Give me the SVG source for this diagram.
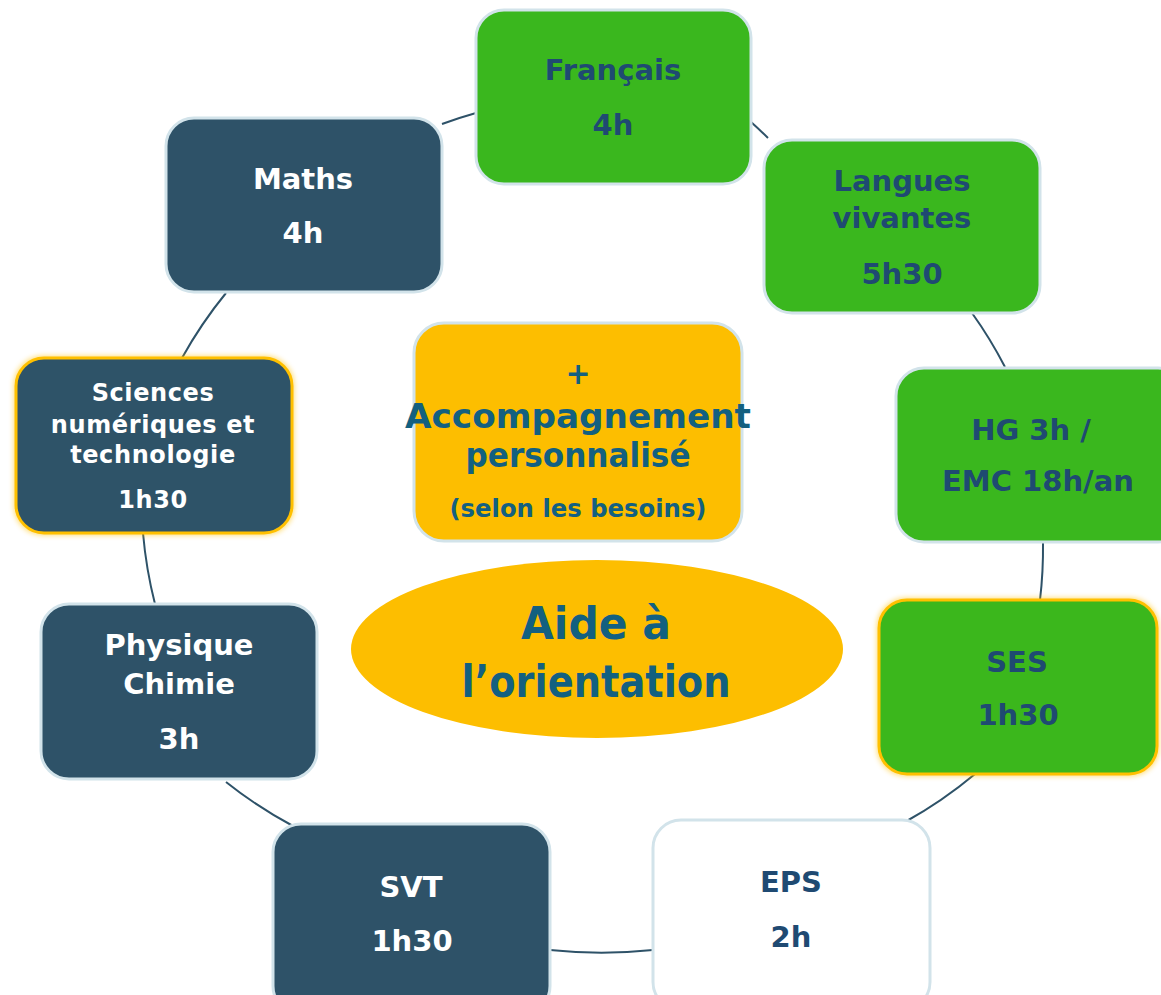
<svg xmlns="http://www.w3.org/2000/svg" width="1161" height="995" viewBox="0 0 1161 995">
<style>
.box{stroke:#D2E3EA;stroke-width:3}
.navy{fill:#2E5268}
.green{fill:#3AB71E}
.white{fill:#FFFFFF}
.yel{fill:#FDBE00}
.glow{stroke:#FFC000;stroke-width:3}
.t{font-family:"DejaVu Sans","Liberation Sans",sans-serif;font-weight:bold;text-anchor:middle}
.tw{fill:#FFFFFF;font-size:29px}
.tg{fill:#1F4A72;font-size:29px}
.tc{fill:#136080}
.ts{fill:#FFFFFF;font-size:24px;letter-spacing:0.6px}
.conn{fill:none;stroke:#2E5268;stroke-width:2}
</style>
<defs>
<filter id="yglow" x="-10%" y="-10%" width="120%" height="120%">
<feMorphology in="SourceAlpha" operator="dilate" radius="1" result="d"/>
<feGaussianBlur in="d" stdDeviation="2.5" result="b"/>
<feFlood flood-color="#FFC000" flood-opacity="0.5"/>
<feComposite in2="b" operator="in" result="g"/>
<feMerge><feMergeNode in="g"/><feMergeNode in="SourceGraphic"/></feMerge>
</filter>
</defs>
<rect width="1161" height="995" fill="#FFFFFF"/>
<g id="connectors">
<path class="conn" d="M442,124 A440,440 0 0 1 476,113"/>
<path class="conn" d="M751,122 A440,440 0 0 1 768,138"/>
<path class="conn" d="M972,313 A440,440 0 0 1 1005,367"/>
<path class="conn" d="M1043,543 A440,440 0 0 1 1040,600"/>
<path class="conn" d="M975,774 A440,440 0 0 1 905,822"/>
<path class="conn" d="M653,950 A500,500 0 0 1 550,950"/>
<path class="conn" d="M293,826 A440,440 0 0 1 226,782"/>
<path class="conn" d="M155,604 A440,440 0 0 1 143,533"/>
<path class="conn" d="M182,358 A440,440 0 0 1 226,293"/>
</g>
<g id="francais">
<rect class="box green" x="476" y="10" width="275" height="174" rx="28"/>
<text class="t tg" x="613" y="80">Français</text>
<text class="t tg" x="613" y="135">4h</text>
</g>
<g id="langues">
<rect class="box green" x="764" y="140" width="276" height="173" rx="28"/>
<text class="t tg" x="902" y="191">Langues</text>
<text class="t tg" x="902" y="228">vivantes</text>
<text class="t tg" x="902" y="284">5h30</text>
</g>
<g id="hg">
<rect class="box green" x="896" y="368" width="290" height="174" rx="28"/>
<text class="t tg" x="1031" y="440">HG 3h /</text>
<text class="t tg" x="1038" y="491">EMC 18h/an</text>
</g>
<g id="ses">
<rect class="green glow" filter="url(#yglow)" x="879" y="600" width="278" height="174" rx="28"/>
<text class="t tg" x="1017" y="672">SES</text>
<text class="t tg" x="1018" y="725">1h30</text>
</g>
<g id="eps">
<rect class="box white" x="653" y="820" width="277" height="190" rx="28"/>
<text class="t tg" x="791" y="892">EPS</text>
<text class="t tg" x="791" y="947">2h</text>
</g>
<g id="svt">
<rect class="box navy" x="273" y="824" width="277" height="190" rx="28"/>
<text class="t tw" x="411" y="897">SVT</text>
<text class="t tw" x="412" y="951">1h30</text>
</g>
<g id="physique">
<rect class="box navy" x="41" y="604" width="276" height="175" rx="28"/>
<text class="t tw" x="179" y="655">Physique</text>
<text class="t tw" x="179" y="694">Chimie</text>
<text class="t tw" x="179" y="749">3h</text>
</g>
<g id="sciences-num">
<rect class="navy glow" filter="url(#yglow)" x="16" y="358" width="276" height="175" rx="28"/>
<text class="t ts" x="153" y="401">Sciences</text>
<text class="t ts" x="153" y="433">numériques et</text>
<text class="t ts" x="153" y="463">technologie</text>
<text class="t ts" x="153" y="508">1h30</text>
</g>
<g id="maths">
<rect class="box navy" x="166" y="118" width="276" height="174" rx="28"/>
<text class="t tw" x="303" y="189">Maths</text>
<text class="t tw" x="303" y="243">4h</text>
</g>
<g id="accompagnement">
<rect class="box yel" x="414" y="323" width="328" height="218" rx="30"/>
<text class="t tc" font-size="30" x="578" y="384">+</text>
<text class="t tc" font-size="34" x="578" y="428" textLength="346" lengthAdjust="spacingAndGlyphs">Accompagnement</text>
<text class="t tc" font-size="33" x="578" y="467" textLength="225" lengthAdjust="spacingAndGlyphs">personnalisé</text>
<text class="t tc" font-size="24" x="578" y="517" textLength="257" lengthAdjust="spacingAndGlyphs">(selon les besoins)</text>
</g>
<g id="orientation">
<ellipse class="yel" cx="597" cy="649" rx="246" ry="89"/>
<text class="t tc" font-size="44" x="596" y="639" textLength="150" lengthAdjust="spacingAndGlyphs">Aide à</text>
<text class="t tc" font-size="44" x="596" y="697" textLength="269" lengthAdjust="spacingAndGlyphs">l’orientation</text>
</g>
</svg>
